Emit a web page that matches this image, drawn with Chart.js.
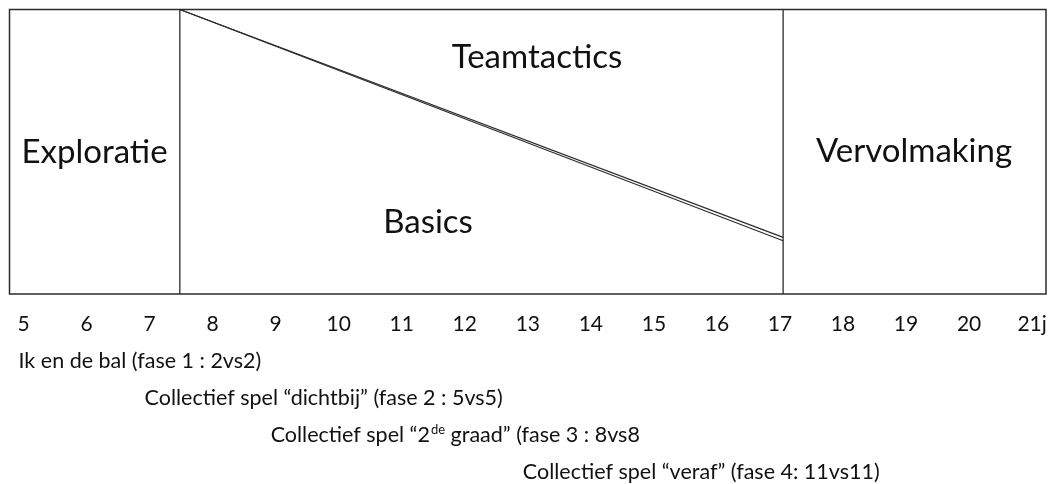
<!DOCTYPE html>
<html>
<head>
<meta charset="utf-8">
<script src="https://cdn.jsdelivr.net/npm/chart.js@4.4.1/dist/chart.umd.min.js"></script>
<style>
  html, body { margin: 0; padding: 0; background: #fff; }
  #wrap { width: 1052px; height: 484px; }
</style>
</head>
<body>
<div id="wrap"><canvas id="c" width="1052" height="484"></canvas></div>
<script>
// ---- data ----
const ages = [5, 6, 7, 8, 9, 10, 11, 12, 13, 14, 15, 16, 17, 18, 19, 20, 21];
const tickLabels = ['5', '6', '7', '8', '9', '10', '11', '12', '13', '14', '15', '16', '17', '18', '19', '20', '21j'];
const boundaries = [7.48, 17.05];           // ages where the phases split
const diagonalEndA = 0.199;                  // share at right end of the split line
const diagonalEndB = 0.187;                  // second stroke of the double line
const regionLabels = ['Exploratie', 'Teamtactics', 'Basics', 'Vervolmaking'];
const regionAge = [6.126, 13.146, 11.417, 19.126];
const regionLevel = [0.4605, 0.794, 0.2144, 0.464];
const phaseLabels = [
  'Ik en de bal (fase 1 : 2vs2)',
  'Collectief spel \u201cdichtbij\u201d (fase 2 : 5vs5)',
  'Collectief spel \u201c2{de} graad\u201d (fase 3 : 8vs8',
  'Collectief spel \u201cveraf\u201d (fase 4: 11vs11)'
];
const phaseStart = [5, 7, 9, 13];
const axisMin = 4.778, axisMax = 21.22;

const FONT = 'Lato, Carlito, "Open Sans", sans-serif';
const LINE = '#2b2b2b';

const framePlugin = {
  id: 'frame',
  afterDatasetsDraw(chart) {
    const {ctx, chartArea: a} = chart;
    ctx.save();
    ctx.strokeStyle = LINE;
    ctx.lineWidth = 1.5;
    ctx.strokeRect(a.left, a.top, a.right - a.left, a.bottom - a.top);
    ctx.restore();
  }
};

const textPlugin = {
  id: 'texts',
  afterDraw(chart) {
    const {ctx, chartArea: a} = chart;
    const xs = chart.scales.x, ys = chart.scales.y;
    ctx.save();
    ctx.fillStyle = '#111';
    ctx.textBaseline = 'alphabetic';
    // region names
    ctx.font = '33px ' + FONT;
    ctx.textAlign = 'center';
    regionLabels.forEach((t, i) => {
      ctx.fillText(t, xs.getPixelForValue(regionAge[i]), ys.getPixelForValue(regionLevel[i]));
    });
    // phase rows
    ctx.textAlign = 'left';
    phaseLabels.forEach((t, i) => {
      let x = xs.getPixelForValue(phaseStart[i]) - 5;
      const y = a.bottom + 74 + i * 37;
      const parts = t.split(/(\{[^}]*\})/);
      parts.forEach(p => {
        if (!p) return;
        if (p[0] === '{') {
          const s = p.slice(1, -1);
          ctx.font = '13px ' + FONT;
          ctx.fillText(s, x + 1, y - 8);
          x += ctx.measureText(s).width + 1;
        } else {
          ctx.font = '21.5px ' + FONT;
          ctx.fillText(p, x, y);
          x += ctx.measureText(p).width;
        }
      });
    });
    ctx.restore();
  }
};

const lineDs = (pts, w) => ({
  data: pts, showLine: true, borderColor: LINE, borderWidth: w,
  pointRadius: 0, fill: false, tension: 0
});

new Chart(document.getElementById('c'), {
  type: 'scatter',
  data: {
    datasets: [
      lineDs([{x: boundaries[0], y: 0}, {x: boundaries[0], y: 1}], 1.3),
      lineDs([{x: boundaries[1], y: 0}, {x: boundaries[1], y: 1}], 1.3),
      lineDs([{x: boundaries[0], y: 1}, {x: boundaries[1], y: diagonalEndA}], 1.1),
      lineDs([{x: boundaries[0], y: 1}, {x: boundaries[1], y: diagonalEndB}], 1.1)
    ]
  },
  options: {
    responsive: false,
    animation: false,
    events: [],
    layout: { padding: { left: 9.5, top: 9.5, right: 6, bottom: 0 } },
    plugins: { legend: { display: false }, tooltip: { enabled: false } },
    scales: {
      x: {
        type: 'linear', min: axisMin, max: axisMax,
        afterBuildTicks: s => { s.ticks = ages.map(v => ({value: v})); },
        afterFit: s => { s.height = 190; s.paddingLeft = 0; s.paddingRight = 0; },
        grid: { display: false, drawTicks: false },
        border: { display: false },
        ticks: {
          autoSkip: false, maxRotation: 0, padding: 18,
          color: '#111', font: { family: FONT, size: 21 },
          callback: (v) => { const i = ages.indexOf(v); return i >= 0 ? tickLabels[i] : ''; }
        }
      },
      y: { type: 'linear', min: 0, max: 1, display: false }
    }
  },
  plugins: [framePlugin, textPlugin]
});
</script>
</body>
</html>
